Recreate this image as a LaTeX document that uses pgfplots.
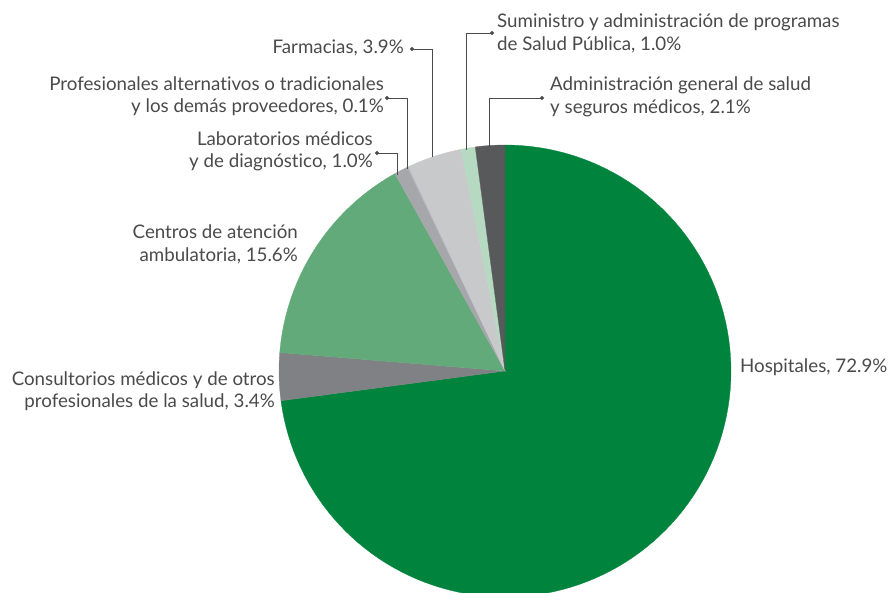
\documentclass[border=0pt]{standalone}
\usepackage{pgfplots}
\pgfplotsset{compat=1.18}
\usepackage{fontspec}
\setmainfont{Lato}[Ligatures=NoCommon]
\definecolor{hosp}{HTML}{00843D}
\definecolor{cons}{HTML}{808184}
\definecolor{cent}{HTML}{62AA7A}
\definecolor{labs}{HTML}{A6A7AA}
\definecolor{prof}{HTML}{B9BABC}
\definecolor{farm}{HTML}{C8C9CB}
\definecolor{sumi}{HTML}{B5DAC1}
\definecolor{admi}{HTML}{58595B}
\definecolor{txt}{HTML}{4A4A4C}
\definecolor{lead}{HTML}{4A4A4C}
% shares (%) and their wedge angles (counter-clockwise, from 90 deg)
% Administracion 2.1 : 90.00-97.56 ; Suministro 1.0 : 97.56-101.16
% Farmacias 3.9 : 101.16-115.20 ; Prof. alternativos 0.1 : 115.20-115.56
% Laboratorios 1.0 : 115.56-119.16 ; Centros 15.6 : 119.16-175.32
% Consultorios 3.4 : 175.32-187.56 ; Hospitales 72.9 : 187.56-450.00
\newcommand{\pieslice}[3]{%
  \addplot[fill=#1, draw=#1, line width=0.3pt, domain=#2:#3, samples=120, variable=\t]
    ({505+226*cos(\t)},{222+226*sin(\t)}) -- (axis cs:505,222) -- cycle;}
\begin{document}
\begin{tikzpicture}
\begin{axis}[name=ax, x=1bp, y=1bp, xmin=0, xmax=890, ymin=0, ymax=593,
  hide axis, clip=true, anchor=origin, at={(0,0)}]
\pieslice{hosp}{187.56}{450.00}
\pieslice{cons}{175.32}{187.56}
\pieslice{cent}{119.16}{175.32}
\pieslice{labs}{115.56}{119.16}
\pieslice{prof}{115.20}{115.56}
\pieslice{farm}{101.16}{115.20}
\pieslice{sumi}{97.56}{101.16}
\pieslice{admi}{90.00}{97.56}
% leader lines
\addplot[lead, line width=0.9pt, mark=*, mark size=1.6pt, mark repeat=10, mark phase=1] coordinates {(412,544) (432,544) (432,436)};
\addplot[lead, line width=0.9pt, mark=*, mark size=1.6pt, mark repeat=10, mark phase=1] coordinates {(387,495) (407,495) (407,424)};
\addplot[lead, line width=0.9pt, mark=*, mark size=1.6pt, mark repeat=10, mark phase=1] coordinates {(377,440) (397,440) (397,418)};
\addplot[lead, line width=0.9pt, mark=*, mark size=1.6pt, mark repeat=10, mark phase=1] coordinates {(492,560) (466,560) (466,443)};
\addplot[lead, line width=0.9pt, mark=*, mark size=1.6pt, mark repeat=10, mark phase=1] coordinates {(542,495) (489,495) (489,446)};
% labels
\tikzset{lab/.style={text=txt, inner sep=0pt, font=\fontsize{18.8}{22.5}\selectfont}}
\node[lab, anchor=west, align=left] at (axis cs:497,559.5) {Suministro y administración de programas\\de Salud Pública, 1.0\%};
\node[lab, anchor=west, align=left] at (axis cs:550,496) {Administración general de salud\\y seguros médicos, 2.1\%};
\node[lab, anchor=east, align=right] at (axis cs:404,545) {Farmacias, 3.9\%};
\node[lab, anchor=east, align=right] at (axis cs:384,497) {Profesionales alternativos o tradicionales\\y los demás proveedores, 0.1\%};
\node[lab, anchor=east, align=right] at (axis cs:373,441.5) {Laboratorios médicos\\y de diagnóstico, 1.0\%};
\node[lab, anchor=east, align=right] at (axis cs:298,348.5) {Centros de atención\\ambulatoria, 15.6\%};
\node[lab, anchor=east, align=right] at (axis cs:275,201.5) {Consultorios médicos y de otros\\profesionales de la salud, 3.4\%};
\node[lab, anchor=west] at (axis cs:740,226) {Hospitales, 72.9\%};
\end{axis}
\pgfresetboundingbox
\path[use as bounding box] (0,0) rectangle (890bp,593bp);
\end{tikzpicture}
\end{document}
